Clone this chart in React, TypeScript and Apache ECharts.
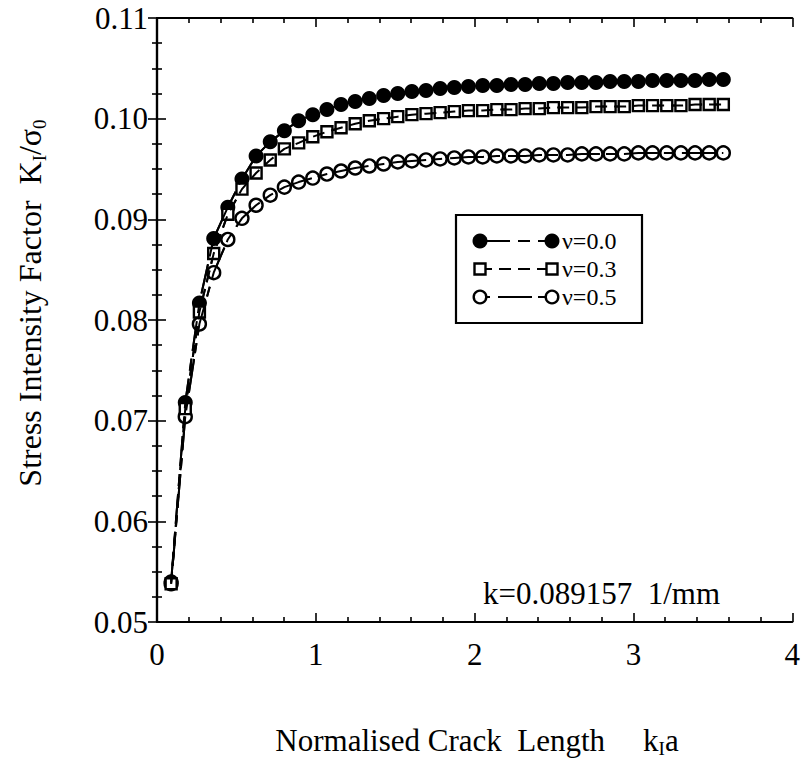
import React, { useEffect, useRef } from "react";
import * as echarts from "echarts";

// normalised crack length k1*a (k = 0.089157 1/mm, a = 1..40 mm)
const crackLength = [
  0.089, 0.178, 0.267, 0.357, 0.446, 0.535, 0.624, 0.713, 0.802, 0.892,
  0.981, 1.07, 1.159, 1.248, 1.337, 1.427, 1.516, 1.605, 1.694, 1.783,
  1.872, 1.961, 2.051, 2.14, 2.229, 2.318, 2.407, 2.496, 2.586, 2.675,
  2.764, 2.853, 2.942, 3.031, 3.12, 3.21, 3.299, 3.388, 3.477, 3.566,
];

const sifNu00 = [
  0.054, 0.0718, 0.0817, 0.0881, 0.0912, 0.094, 0.0963, 0.0977, 0.0988, 0.0998,
  0.1004, 0.1009, 0.1014, 0.1017, 0.102, 0.1023, 0.1025, 0.1027, 0.1028, 0.103,
  0.1031, 0.1032, 0.1033, 0.1033, 0.1034, 0.1034, 0.1035, 0.1035, 0.1036, 0.1036,
  0.1036, 0.1037, 0.1037, 0.1037, 0.1038, 0.1038, 0.1038, 0.1038, 0.1039, 0.1039,
];

const sifNu03 = [
  0.0538, 0.0712, 0.0808, 0.0866, 0.0905, 0.093, 0.0946, 0.0959, 0.097, 0.0976,
  0.0982, 0.0987, 0.0991, 0.0995, 0.0998, 0.1, 0.1002, 0.1004, 0.1005, 0.1006,
  0.1007, 0.1008, 0.1008, 0.1009, 0.1009, 0.101, 0.101, 0.1011, 0.1011, 0.1011,
  0.1012, 0.1012, 0.1012, 0.1013, 0.1013, 0.1013, 0.1013, 0.1014, 0.1014, 0.1014,
];

const sifNu05 = [
  0.0538, 0.0704, 0.0796, 0.0847, 0.088, 0.0901, 0.0914, 0.0924, 0.0932, 0.0937,
  0.0941, 0.0945, 0.0948, 0.0951, 0.0953, 0.0955, 0.0957, 0.0958, 0.0959, 0.096,
  0.0961, 0.0962, 0.0962, 0.0963, 0.0963, 0.0963, 0.0964, 0.0964, 0.0964, 0.0965,
  0.0965, 0.0965, 0.0965, 0.0966, 0.0966, 0.0966, 0.0966, 0.0966, 0.0966, 0.0966,
];

const seriesNames = ["ν=0.0", "ν=0.3", "ν=0.5"];
const xTicks = [0, 1, 2, 3, 4];
const yTicks = [0.05, 0.06, 0.07, 0.08, 0.09, 0.1, 0.11];

const FONT = '"Liberation Serif", "Times New Roman", serif';

export default function App() {
  const ref = useRef<HTMLDivElement>(null);

  useEffect(() => {
    if (!ref.current) return;
    const chart = echarts.init(ref.current, null, { renderer: "svg" });

    const pair = (ys: number[]) => crackLength.map((x, i) => [x, ys[i]]);

    const axisCommon = {
      axisLine: { show: true, lineStyle: { color: "#000", width: 2.2 } },
      axisTick: { show: true, inside: true, length: 9, lineStyle: { color: "#000", width: 1.6 } },
      minorTick: { show: true, length: 5, lineStyle: { color: "#000", width: 1.6 } },
      splitLine: { show: false },
      minorSplitLine: { show: false },
    };

    const xBase = {
      type: "value",
      min: xTicks[0],
      max: xTicks[xTicks.length - 1],
      interval: 1,
      ...axisCommon,
      minorTick: { ...axisCommon.minorTick, splitNumber: 5 },
    };
    const yBase = {
      type: "value",
      min: yTicks[0],
      max: yTicks[yTicks.length - 1],
      interval: 0.01,
      ...axisCommon,
      minorTick: { ...axisCommon.minorTick, splitNumber: 4 },
    };

    const lineTypes: any[] = [[30, 8, 12, 8], [12, 7], [10, 8, 34, 6]];
    const symbols = ["circle", "rect", "circle"];
    const sizes = [15, 11, 13];
    // drawing order: filled circles below, open circles, open squares on top
    const zOrder = [2, 2.2, 2.1];

    const markerSeries = [sifNu00, sifNu03, sifNu05].map((ys, i) => ({
      name: seriesNames[i],
      type: "line",
      data: pair(ys),
      symbol: symbols[i],
      symbolSize: sizes[i],
      showAllSymbol: true,
      z: zOrder[i],
      itemStyle: {
        color: i === 0 ? "#000" : "#fff",
        borderColor: "#000",
        borderWidth: i === 0 ? 0 : 2.4,
      },
      lineStyle: { color: "#000", width: 2, type: lineTypes[i] },
    }));
    const overlaySeries = [sifNu00, sifNu03, sifNu05].map((ys, i) => ({
      name: seriesNames[i] + " line",
      type: "line",
      data: pair(ys),
      showSymbol: false,
      z: 3,
      silent: true,
      lineStyle: { color: "#000", width: 2, type: lineTypes[i] },
    }));

    const legendX0 = 480;
    const legendX1 = 552;
    const legendRows = [241, 269, 297];
    const legendGraphics: any[] = [
      {
        type: "rect",
        shape: { x: 456, y: 215, width: 186, height: 108 },
        style: { fill: "#fff", stroke: "#000", lineWidth: 2.2 },
        z: 10,
      },
    ];
    legendRows.forEach((y, i) => {
      legendGraphics.push({
        type: "line",
        shape: { x1: legendX0, y1: y, x2: legendX1, y2: y },
        style: { stroke: "#000", lineWidth: 2.2, lineDash: lineTypes[i] },
        z: 11,
      });
      [legendX0, legendX1].forEach((cx) => {
        if (i === 1) {
          legendGraphics.push({
            type: "rect",
            shape: { x: cx - 5.5, y: y - 5.5, width: 11, height: 11 },
            style: { fill: "#fff", stroke: "#000", lineWidth: 2.4 },
            z: 12,
          });
        } else {
          legendGraphics.push({
            type: "circle",
            shape: { cx, cy: y, r: i === 0 ? 7.5 : 6.3 },
            style: { fill: i === 0 ? "#000" : "#fff", stroke: "#000", lineWidth: i === 0 ? 0 : 2.4 },
            z: 12,
          });
        }
      });
      legendGraphics.push({
        type: "text",
        x: 562,
        y,
        style: {
          text: seriesNames[i],
          font: `24px ${FONT}`,
          fill: "#000",
          verticalAlign: "middle",
          align: "left",
        },
        z: 12,
      });
    });

    chart.setOption({
      animation: false,
      backgroundColor: "#fff",
      grid: { left: 157, right: 10, top: 18, bottom: 144, containLabel: false },
      xAxis: [
        {
          ...xBase,
          position: "bottom",
          axisLabel: {
            show: true,
            margin: 17,
            color: "#000",
            fontSize: 31,
            fontFamily: FONT,
          },
        },
        { ...xBase, position: "top", axisLabel: { show: false } },
      ],
      yAxis: [
        {
          ...yBase,
          position: "left",
          axisLabel: {
            show: true,
            margin: 9,
            color: "#000",
            fontSize: 31,
            fontFamily: FONT,
            formatter: (v: number) => v.toFixed(2),
          },
        },
        { ...yBase, position: "right", axisLabel: { show: false } },
      ],
      series: [...markerSeries, ...overlaySeries],
      graphic: [
        ...legendGraphics,
        {
          type: "text",
          x: 483,
          y: 593,
          style: {
            text: "k=0.089157  1/mm",
            font: `31px ${FONT}`,
            fill: "#000",
            verticalAlign: "middle",
            align: "left",
          },
          z: 12,
        },
        {
          type: "text",
          x: 477,
          y: 740,
          style: {
            text: "{t|Normalised Crack  Length}{k|k}{s|I}{t|a}",
            align: "center",
            verticalAlign: "middle",
            fill: "#000",
            rich: {
              t: { fontSize: 31, fontFamily: FONT, color: "#000", lineHeight: 36 },
              k: { fontSize: 31, fontFamily: FONT, color: "#000", lineHeight: 36, padding: [0, 0, 0, 38] },
              s: { fontSize: 19, fontFamily: FONT, color: "#000", lineHeight: 14, verticalAlign: "bottom" },
            },
          },
        },
        {
          type: "text",
          x: 30,
          y: 303,
          rotation: Math.PI / 2,
          style: {
            text: "{t|Stress Intensity Factor  K}{s|I}{t|/σ}{s|0}",
            align: "center",
            verticalAlign: "middle",
            fill: "#000",
            rich: {
              t: { fontSize: 32, fontFamily: FONT, color: "#000", lineHeight: 38 },
              s: { fontSize: 19, fontFamily: FONT, color: "#000", lineHeight: 14, verticalAlign: "bottom" },
            },
          },
        },
      ],
    });

    return () => chart.dispose();
  }, []);

  return (
    <div
      ref={ref}
      style={{ position: "fixed", left: 0, top: 0, width: 803, height: 766, background: "#fff" }}
    />
  );
}
